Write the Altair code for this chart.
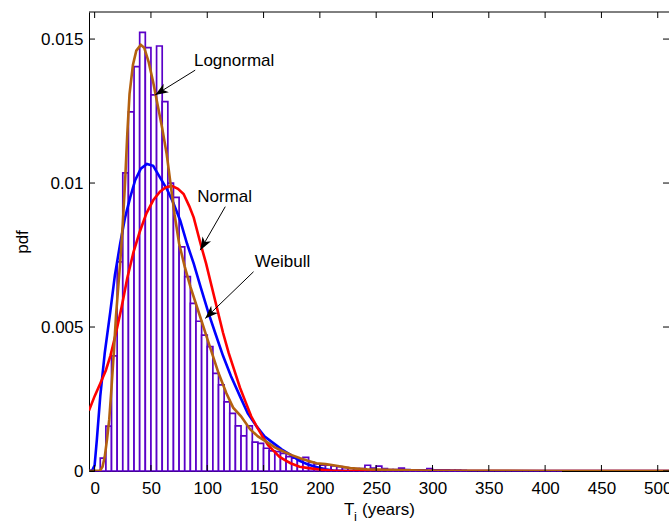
import altair as alt
import pandas as pd

# ---------------- data ----------------
# histogram (5-year bins), bin start and normalised height (pdf)
hist_start = list(range(0, 415, 5))
hist_pdf = [
    0.0, 0.00045, 0.00156, 0.0040, 0.00726, 0.01035, 0.01247, 0.01404,
    0.01523, 0.0147, 0.01306, 0.01476, 0.01283, 0.0100, 0.0095, 0.00778,
    0.00675, 0.00582, 0.0052, 0.00472, 0.00432, 0.00339, 0.00299, 0.0024,
    0.0020, 0.00157, 0.00122, 0.00157, 0.0010, 0.00096, 0.00079, 0.0007,
    0.00067, 0.00061, 0.0005, 0.00045, 0.00039, 0.00047, 0.0003, 0.00025,
    0.0002, 0.0002, 0.00018, 0.00015, 0.00012, 0.0001, 0.00008, 0.00008,
    0.0002, 0.0001, 0.00017, 0.00008, 0.00005, 0.00005, 0.0001, 0.00005,
    0.00004, 0.00004, 0.00004, 0.00008, 0.00004, 0.00004, 0.00004, 0.00003,
    0.00003, 0.00002, 0.0, 0.0, 0.0, 0.0, 0.0, 0.0,
    0.0, 0.0, 0.0, 0.0, 0.0, 0.0, 0.0, 0.0,
    0.0, 0.0, 0.0,
]

normal_x = [-5, 0, 5, 10, 14, 19, 24, 29, 34.5, 40, 46, 52, 58, 63, 68.5, 74,
            79, 84, 88, 94, 99, 104, 109, 114, 119, 124, 129, 134, 139, 144,
            149, 154, 159, 164, 169, 174, 182, 190, 200, 210, 220, 300, 400, 510]
normal_pdf = [0.0021, 0.0026, 0.00304, 0.0035, 0.0040, 0.0048, 0.0057, 0.0067,
              0.0076, 0.0083, 0.00895, 0.0094, 0.0097, 0.00985, 0.0099, 0.0098,
              0.00962, 0.0092, 0.0088, 0.0079, 0.0072, 0.0064, 0.0056, 0.0048,
              0.0041, 0.0035, 0.0029, 0.0024, 0.0019, 0.00154, 0.0012, 0.0009,
              0.0007, 0.0005, 0.00038, 0.00027, 0.00015, 0.0001, 0.00005,
              0.00002, 0.0, 0.0, 0.0, 0.0]

weibull_x = [-5, -2, 0, 2, 5, 9, 13.8, 18, 22.7, 27, 31.6, 36, 41, 46.4, 52,
             58, 64, 70, 76, 82, 88, 94, 101, 107, 114, 121, 129, 136, 144,
             151, 159, 166, 174, 182, 190, 197, 205, 212, 225, 300, 400, 510]
weibull_pdf = [0.0, 0.00003, 0.0002, 0.0011, 0.0026, 0.0041, 0.0055, 0.0068,
               0.0079, 0.0088, 0.0095, 0.0101, 0.0105, 0.01066, 0.0106, 0.0102,
               0.0098, 0.0093, 0.0087, 0.0079, 0.0072, 0.0064, 0.0055, 0.0048,
               0.0040, 0.0033, 0.0026, 0.0020, 0.00154, 0.0012, 0.00096,
               0.00075, 0.00056, 0.00035, 0.00022, 0.00014, 0.00006, 0.00002,
               0.0, 0.0, 0.0, 0.0]

lognormal_x = [-5, 5, 7, 9, 11, 13, 15, 17, 19, 21, 23, 25, 27, 29, 31, 34, 37,
               41, 44, 48, 52, 56, 60, 64, 67, 71, 75, 80, 85, 90, 95, 100,
               105, 110, 117, 123, 130, 138, 145, 153, 160, 168, 175, 182.5,
               190, 197, 205, 212, 220, 227, 235, 242, 260, 280, 300, 400, 510]
lognormal_pdf = [0.0, 0.00002, 0.00015, 0.0005, 0.0011, 0.0018, 0.0029, 0.0041,
                 0.0054, 0.0064, 0.0074, 0.0086, 0.0100, 0.0117, 0.0131, 0.0141,
                 0.0146, 0.0148, 0.0147, 0.0142, 0.0135, 0.0127, 0.0119, 0.0110,
                 0.0101, 0.0089, 0.0079, 0.0071, 0.0064, 0.0058, 0.0052, 0.0046,
                 0.0040, 0.0034, 0.0027, 0.0022, 0.0019, 0.00145, 0.0012, 0.001,
                 0.00082, 0.00067, 0.00055, 0.00044, 0.00035, 0.00027, 0.00024,
                 0.0002, 0.00015, 0.0001, 0.00008, 0.00006, 0.00004, 0.00002,
                 0.00001, 0.0, 0.0]

x_ticks = list(range(0, 501, 50))
y_ticks = [0, 0.005, 0.01, 0.015]

labels = ["Lognormal", "Normal", "Weibull"]
label_x = [88.2, 91.1, 142.2]
label_y = [0.01407, 0.00935, 0.00709]
tail_x = [89.3, 116.0, 141.1]
tail_y = [0.01392, 0.00918, 0.00692]
tip_x = [53.8, 93.8, 98.2]
tip_y = [0.01306, 0.00767, 0.0053]
tip_angle = [238, 210, 226]

# ---------------- styling ----------------
W, H = 580, 459
FONT = "Liberation Sans"
FS = 17
TICK = 6

xs = alt.Scale(domain=[-5, 510], nice=False, zero=False)
ys = alt.Scale(domain=[0, 0.01594], nice=False, zero=False)
xaxis = alt.Axis(values=x_ticks, ticks=False, tickSize=0, labelPadding=9,
                 title=None, grid=False, labelFlush=False, labelOverlap=False,
                 domainColor="black", domainWidth=1)
yaxis = alt.Axis(values=y_ticks, format=".3~f", ticks=False, tickSize=0,
                 labelPadding=6, grid=False, labelOverlap=False,
                 domainColor="black", domainWidth=1,
                 title="pdf", titleX=-67, titleY=H / 2, titleAngle=270,
                 titleAlign="center", titleBaseline="middle")

hist_df = pd.DataFrame({"x0": hist_start, "pdf": hist_pdf})
hist_df["x1"] = hist_df["x0"] + 5
hist_df["base"] = 0.0

hist = alt.Chart(hist_df).mark_rect(
    fill="white", stroke="#5A00C8", strokeWidth=1.7
).encode(
    x=alt.X("x0:Q", scale=xs, axis=xaxis),
    x2="x1:Q",
    y=alt.Y("base:Q", scale=ys, axis=yaxis),
    y2="pdf:Q",
)


def curve(xv, pv, color):
    df = pd.DataFrame({"x": xv, "pdf": pv})
    return alt.Chart(df).mark_line(color=color, strokeWidth=2.6, clip=True).encode(
        x=alt.X("x:Q", scale=xs, axis=xaxis),
        y=alt.Y("pdf:Q", scale=ys, axis=yaxis),
    )


blue = curve(weibull_x, weibull_pdf, "#0000FF")
red = curve(normal_x, normal_pdf, "#FF0000")
brown = curve(lognormal_x, lognormal_pdf, "#B4610F")

ann_df = pd.DataFrame({
    "label": labels, "lx": label_x, "ly": label_y,
    "tx": tail_x, "ty": tail_y, "hx": tip_x, "hy": tip_y, "ang": tip_angle,
})

ann_text = alt.Chart(ann_df).mark_text(
    align="left", baseline="alphabetic", font=FONT, fontSize=FS, color="black"
).encode(
    x=alt.X("lx:Q", scale=xs, axis=xaxis),
    y=alt.Y("ly:Q", scale=ys, axis=yaxis),
    text="label:N",
)
ann_line = alt.Chart(ann_df).mark_rule(color="black", strokeWidth=1).encode(
    x=alt.X("tx:Q", scale=xs, axis=xaxis),
    y=alt.Y("ty:Q", scale=ys, axis=yaxis),
    x2="hx:Q",
    y2="hy:Q",
)
ARROW = "M0,0L0.38,1L0,0.72L-0.38,1Z"
ann_head = alt.Chart(ann_df).mark_point(
    shape=ARROW, filled=True, color="black", opacity=1, size=676, strokeWidth=0
).encode(
    x=alt.X("hx:Q", scale=xs, axis=xaxis),
    y=alt.Y("hy:Q", scale=ys, axis=yaxis),
    angle=alt.Angle("ang:Q", scale=None),
)

xt_df = pd.DataFrame({"t": x_ticks})
yt_df = pd.DataFrame({"t": y_ticks})
tick_bottom = alt.Chart(xt_df).mark_rule(color="black", strokeWidth=1).encode(
    x=alt.X("t:Q", scale=xs, axis=xaxis), y=alt.value(H), y2=alt.value(H - TICK))
tick_top = alt.Chart(xt_df).mark_rule(color="black", strokeWidth=1).encode(
    x=alt.X("t:Q", scale=xs, axis=xaxis), y=alt.value(0), y2=alt.value(TICK))
tick_left = alt.Chart(yt_df).mark_rule(color="black", strokeWidth=1).encode(
    y=alt.Y("t:Q", scale=ys, axis=yaxis), x=alt.value(0), x2=alt.value(TICK))
tick_right = alt.Chart(yt_df).mark_rule(color="black", strokeWidth=1).encode(
    y=alt.Y("t:Q", scale=ys, axis=yaxis), x=alt.value(W - TICK), x2=alt.value(W))

one = pd.DataFrame({"a": [0]})
top_frame = alt.Chart(one).mark_rule(color="black", strokeWidth=1).encode(
    x=alt.value(0), x2=alt.value(W + 5), y=alt.value(0))

xt_T = alt.Chart(one).mark_text(align="left", baseline="alphabetic", font=FONT,
                                fontSize=FS, color="black").encode(
    x=alt.value(255), y=alt.value(503), text=alt.value("T"))
xt_i = alt.Chart(one).mark_text(align="left", baseline="alphabetic", font=FONT,
                                fontSize=13, color="black").encode(
    x=alt.value(265), y=alt.value(509), text=alt.value("i"))
xt_rest = alt.Chart(one).mark_text(align="left", baseline="alphabetic", font=FONT,
                                   fontSize=FS, color="black").encode(
    x=alt.value(273), y=alt.value(503), text=alt.value("(years)"))

chart = alt.layer(
    hist, blue, red, brown,
    tick_bottom, tick_top, tick_left, tick_right, top_frame,
    ann_line, ann_head, ann_text,
    xt_T, xt_i, xt_rest,
).properties(
    width=W, height=H,
    autosize=alt.AutoSizeParams(type="none"),
    padding={"left": 89, "top": 12, "right": 0, "bottom": 54},
).configure_view(stroke=None).configure_axis(
    labelFont=FONT, labelFontSize=FS, labelColor="black",
    titleFont=FONT, titleFontSize=FS, titleColor="black",
    titleFontWeight="normal",
)

chart.save("out.html", embed_options={"renderer": "svg", "actions": False})
